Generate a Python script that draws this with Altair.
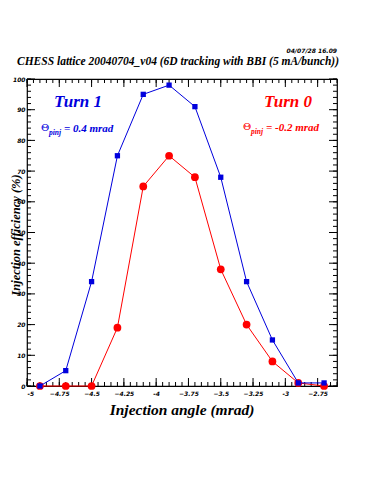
import altair as alt
import pandas as pd

# Data
angles = [-4.9, -4.7, -4.5, -4.3, -4.1, -3.9, -3.7, -3.5, -3.3, -3.1, -2.9, -2.7]
turn1 = [0, 5, 34, 75, 95, 98, 91, 68, 34, 15, 1, 1]
turn0 = [0, 0, 0, 19, 65, 75, 68, 38, 20, 8, 1, 0]

x_major = [-5, -4.75, -4.5, -4.25, -4, -3.75, -3.5, -3.25, -3, -2.75]
x_minor = [round(-5 + 0.05 * i, 2) for i in range(49)]
y_major = [0, 10, 20, 30, 40, 50, 60, 70, 80, 90, 100]
y_minor = list(range(0, 101, 2))

W, H = 310, 307
BLUE = "#0000dd"
RED = "#ff0000"
SERIF = "Liberation Serif"

xs = alt.Scale(domain=[-5, -2.6], nice=False, zero=False)
ys = alt.Scale(domain=[0, 100], nice=False)

df1 = pd.DataFrame({"a": angles, "e": turn1})
df0 = pd.DataFrame({"a": angles, "e": turn0})

xexpr = "datum.value == -5 ? '-5' : datum.value == -4 ? '-4' : datum.value == -3 ? '-3' : format(datum.value, '.2~f')"

xaxis = alt.Axis(values=x_major, ticks=False, grid=False, domain=False, title=None,
                 labelFont="DejaVu Sans", labelFontSize=6, labelFontWeight="bold",
                 labelFontStyle="italic", labelPadding=4, labelExpr=xexpr, labelColor="black",
                 labelOverlap=False)
yaxis = alt.Axis(values=y_major, ticks=False, grid=False, domain=False, title=None,
                 labelFont="DejaVu Sans", labelFontSize=6, labelFontWeight="bold",
                 labelFontStyle="italic", labelPadding=2, labelColor="black",
                 labelOverlap=False)

X = lambda f: alt.X(f, scale=xs, axis=xaxis)
Y = lambda f: alt.Y(f, scale=ys, axis=yaxis)

red_line = alt.Chart(df0).mark_line(color=RED, strokeWidth=1).encode(x=X("a:Q"), y=Y("e:Q"))
red_pts = alt.Chart(df0).mark_circle(color=RED, size=60, opacity=1).encode(x=X("a:Q"), y=Y("e:Q"))
blue_line = alt.Chart(df1).mark_line(color=BLUE, strokeWidth=1).encode(x=X("a:Q"), y=Y("e:Q"))
blue_pts = alt.Chart(df1).mark_square(color=BLUE, size=28, opacity=1).encode(x=X("a:Q"), y=Y("e:Q"))


def xticks(vals, length, bottom=True):
    d = pd.DataFrame({"a": vals})
    y1, y2 = (H, H - length) if bottom else (0, length)
    return alt.Chart(d).mark_rule(color="black", strokeWidth=1).encode(
        x=X("a:Q"), y=alt.value(y1), y2=alt.value(y2))


def yticks(vals, length, left=True):
    d = pd.DataFrame({"e": vals})
    x1, x2 = (0, length) if left else (W, W - length)
    return alt.Chart(d).mark_rule(color="black", strokeWidth=1).encode(
        y=Y("e:Q"), x=alt.value(x1), x2=alt.value(x2))


ticks = [xticks(x_minor, 4), xticks(x_major, 8), xticks(x_minor, 4, False), xticks(x_major, 8, False),
         yticks(y_minor, 4), yticks(y_major, 8), yticks(y_minor, 4, False), yticks(y_major, 8, False)]


def txt(s, x, y, size, color="black", align="left", angle=0, font=SERIF, weight="bold", style="italic"):
    return alt.Chart(pd.DataFrame({"t": [s]})).mark_text(
        text=s, align=align, baseline="middle", fontSize=size, color=color, angle=angle,
        font=font, fontWeight=weight, fontStyle=style).encode(x=alt.value(x), y=alt.value(y))


annots = [
    txt("CHESS lattice 20040704_v04 (6D tracking with BBI (5 mA/bunch))", 151, -17, 11.5, align="center"),
    txt("04/07/28   16.09", 310, -28, 6, align="right", font="DejaVu Sans"),
    txt("Turn 1", 51, 23, 17, color=BLUE, align="center"),
    txt("Θ", 14, 49, 10, color=BLUE, font="DejaVu Serif", weight="normal", style="normal"),
    txt("pinj", 22, 54, 7.5, color=BLUE),
    txt("= 0.4 mrad", 37, 50, 11, color=BLUE),
    txt("Turn 0", 261, 23, 17, color=RED, align="center"),
    txt("Θ", 216, 48, 10, color=RED, font="DejaVu Serif", weight="normal", style="normal"),
    txt("pinj", 224, 53, 7.5, color=RED),
    txt("= -0.2 mrad", 239, 49, 11, color=RED),
    txt("Injection angle (mrad)", 155, 331, 15.5, align="center"),
    txt("Injection efficiency (%)", -11, 156, 12.5, align="center", angle=270),
]

chart = alt.layer(*ticks, red_line, red_pts, blue_line, blue_pts, *annots).properties(
    width=W, height=H,
    autosize=alt.AutoSizeParams(type="none"),
    padding={"left": 19, "top": 71, "right": 20, "bottom": 100},
    background="white",
).configure_view(stroke="black", strokeWidth=1.2)

chart.save("out.html", embed_options={"renderer": "svg", "actions": False})
